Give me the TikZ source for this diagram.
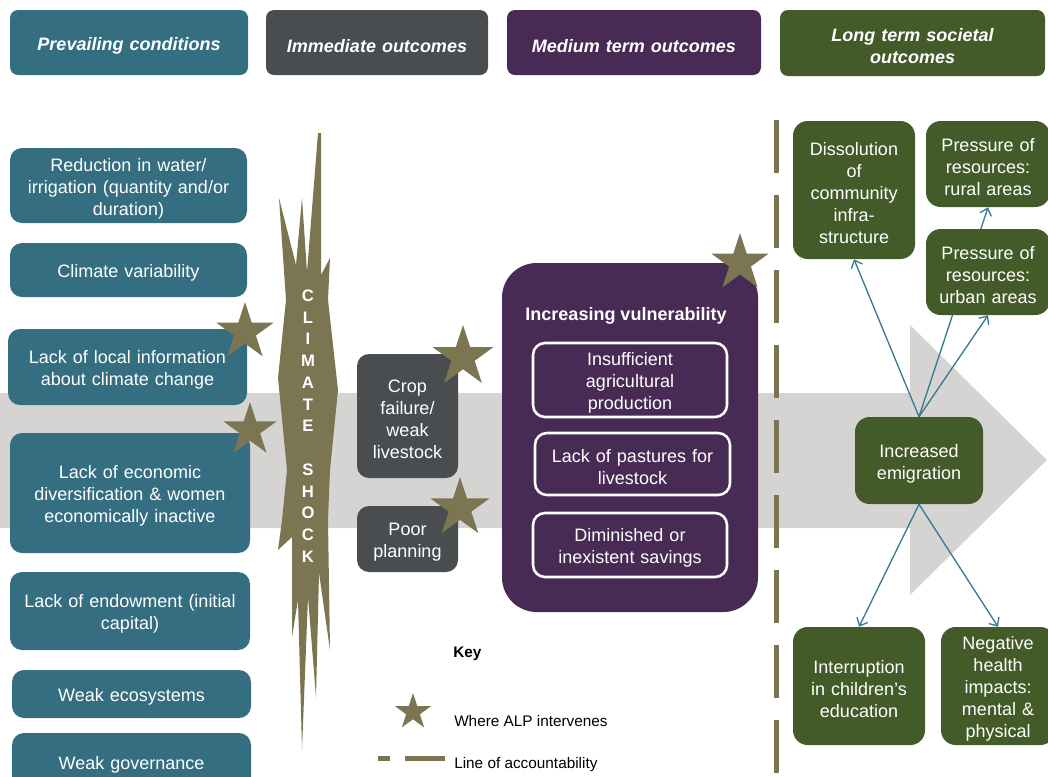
\documentclass[tikz,border=0pt]{standalone}
\usepackage{fontspec}
\setmainfont{Liberation Sans}
\usetikzlibrary{shapes.geometric,arrows.meta,backgrounds}

\definecolor{condblue}{RGB}{52,110,128}
\definecolor{immgrey}{RGB}{74,77,80}
\definecolor{medpurple}{RGB}{72,43,85}
\definecolor{longgreen}{RGB}{67,90,41}
\definecolor{alpolive}{RGB}{123,118,81}
\definecolor{flowgrey}{RGB}{213,212,211}
\definecolor{linkblue}{RGB}{58,122,145}

\newcommand{\dgfont}{\fontsize{13.5}{16.5}\selectfont}
\newcommand{\keyfont}{\fontsize{11.5}{14}\selectfont}

\begin{document}
\begin{tikzpicture}[x=0.75pt,y=-0.75pt,
  txt/.style={text=white, font=\dgfont, align=center, inner sep=0pt, execute at begin node={\rule{0pt}{14.5pt}}},
  hdr/.style={txt, rounded corners=6pt, font=\dgfont\bfseries\itshape},
  cond/.style={txt, fill=condblue, rounded corners=9pt},
  imm/.style={txt, fill=immgrey, rounded corners=9pt},
  vul/.style={txt, draw=white, line width=1.9pt, fill=medpurple, rounded corners=9pt},
  lng/.style={txt, fill=longgreen, rounded corners=11pt},
  alp/.style={star, star points=5, star point ratio=2.618, fill=alpolive, inner sep=0pt},
  link/.style={draw=linkblue, line width=1pt, -{Straight Barb[length=5pt,width=9pt]}}]
\useasboundingbox (0,0) rectangle (1048,776);

% headings
\node[hdr, fill=condblue, text width=178.5pt, minimum height=48.75pt] (hPrev) at (129,42.5) {Prevailing conditions};
\node[hdr, fill=immgrey, text width=166.5pt, minimum height=48.75pt] (hImm) at (377,42.5) {Immediate outcomes};
\node[hdr, fill=medpurple, text width=190.5pt, minimum height=48.75pt] (hMed) at (634,42.5) {Medium term outcomes};
\node[hdr, fill=longgreen, text width=198.75pt, minimum height=49.5pt] (hLong) at (912.5,43) {Long term societal\\outcomes};

% big arrow and links behind the boxes
\begin{pgfonlayer}{background}
\fill[flowgrey] (0,393) -- (910,393) -- (910,325) -- (1047,460) -- (910,595) -- (910,528) -- (0,528) -- cycle;
\end{pgfonlayer}

% prevailing conditions
\node[cond, text width=177.75pt, minimum height=56.25pt] (cWater) at (128.5,185.5) {Reduction in water/\\irrigation (quantity and/or\\duration)};
\node[cond, text width=177.75pt, minimum height=40.5pt] (cVar) at (128.5,270) {Climate variability};
\node[cond, text width=179.25pt, minimum height=57pt] (cInfo) at (127.5,367) {Lack of local information\\about climate change};
\node[cond, text width=180pt, minimum height=90pt] (cEcon) at (130,493) {Lack of economic\\diversification \& women\\economically inactive};
\node[cond, text width=180pt, minimum height=58.5pt] (cEndow) at (130,611) {Lack of endowment (initial\\capital)};
\node[cond, text width=179.25pt, minimum height=36pt] (cEco) at (131.5,694) {Weak ecosystems};
\node[cond, text width=179.25pt, minimum height=42.75pt] (cGov) at (131.5,761.5) {Weak governance};

% climate shock
\fill[alpolive] (318,133) -- (321,133) -- (321,275) -- (330,258) -- (328,300) -- (338,390)
  -- (330,470) -- (328,520) -- (330,650) -- (319,573) -- (316,697) -- (308,597) -- (302,750)
  -- (298,600) -- (292,637) -- (292,537) -- (278,550) -- (282,520) -- (287,470) -- (278,378)
  -- (286,300) -- (279,198) -- (296,265) -- (302,198) -- (307,272) -- cycle;
\node[text=white, font=\fontsize{12.5}{16.3}\selectfont\bfseries, align=center, inner sep=0pt] (shock) at (308,426)
  {C\\L\\I\\M\\A\\T\\E\\\mbox{}\\S\\H\\O\\C\\K};

% immediate outcomes
\node[imm, text width=75.75pt, minimum height=93pt] (iCrop) at (407.5,416) {Crop\\failure/\\weak\\livestock};
\node[imm, text width=75.75pt, minimum height=49.5pt] (iPlan) at (407.5,539) {Poor\\planning};

% medium term outcomes
\node[fill=medpurple, rounded corners=26pt, minimum width=192pt, minimum height=261.75pt, inner sep=0pt] (mVuln) at (630,437.5) {};
\node[text=white, font=\dgfont\bfseries, inner sep=0pt] (mTitle) at (626,316) {Increasing vulnerability};
\node[vul, text width=145.5pt, minimum height=55.5pt] (mAgri) at (630,380) {Insufficient\\agricultural\\production};
\node[vul, text width=146.25pt, minimum height=46.5pt] (mPast) at (632.5,464) {Lack of pastures for\\livestock};
\node[vul, text width=145.5pt, minimum height=48pt] (mSave) at (630,545) {Diminished or\\inexistent savings};

% line of accountability
\coordinate (accTop) at (776,120);
\coordinate (accBot) at (776,776);
\draw[alpolive, line width=3.75pt, dash pattern=on 39.75pt off 16.5pt] (accTop) -- (accBot);

% long term outcomes
\node[lng, text width=91.5pt, minimum height=103.5pt] (lInfra) at (854,190) {Dissolution\\of\\community\\infra-\\structure};
\node[lng, text width=93pt, minimum height=64.5pt] (lRural) at (988,164) {Pressure of\\resources:\\rural areas};
\node[lng, text width=93pt, minimum height=64.5pt] (lUrban) at (988,272) {Pressure of\\resources:\\urban areas};
\node[lng, text width=96pt, minimum height=65.25pt] (lEmig) at (919,460.5) {Increased\\emigration};
\node[lng, text width=99pt, minimum height=88.5pt] (lEdu) at (859,686) {Interruption\\in children's\\education};
\node[lng, text width=85.5pt, minimum height=88.5pt] (lHealth) at (998,686) {Negative\\health\\impacts:\\mental \&\\physical};

\begin{pgfonlayer}{background}
\draw[link] (lEmig.north) -- (lRural.south);
\end{pgfonlayer}
\draw[link] (lEmig.north) -- (lInfra.south);
\draw[link] (lEmig.north) -- (lUrban.south);
\draw[link] (lEmig.south) -- (lEdu.north);
\draw[link] (lEmig.south) -- (lHealth.north);

% where ALP intervenes
\node[alp, minimum size=45pt] (s1) at (245,332) {};
\node[alp, minimum size=42pt] (s2) at (250,430) {};
\node[alp, minimum size=48pt] (s3) at (463,357) {};
\node[alp, minimum size=46.5pt] (s4) at (460,508) {};
\node[alp, minimum size=45pt] (s5) at (740,263) {};

% key
\node[font=\keyfont\bfseries, anchor=west, inner sep=0pt] (key) at (453,654) {Key};
\node[alp, minimum size=28.5pt] (keyStar) at (413,712) {};
\node[font=\keyfont, anchor=west, inner sep=0pt] (keyAlp) at (454,721) {Where ALP intervenes};
\draw[alpolive, line width=3.75pt, dash pattern=on 9pt off 11.25pt on 30pt off 20pt] (378,758) -- (445,758);
\node[font=\keyfont, anchor=west, inner sep=0pt] (keyLine) at (454,765) {Line of accountability};
\end{tikzpicture}
\end{document}
